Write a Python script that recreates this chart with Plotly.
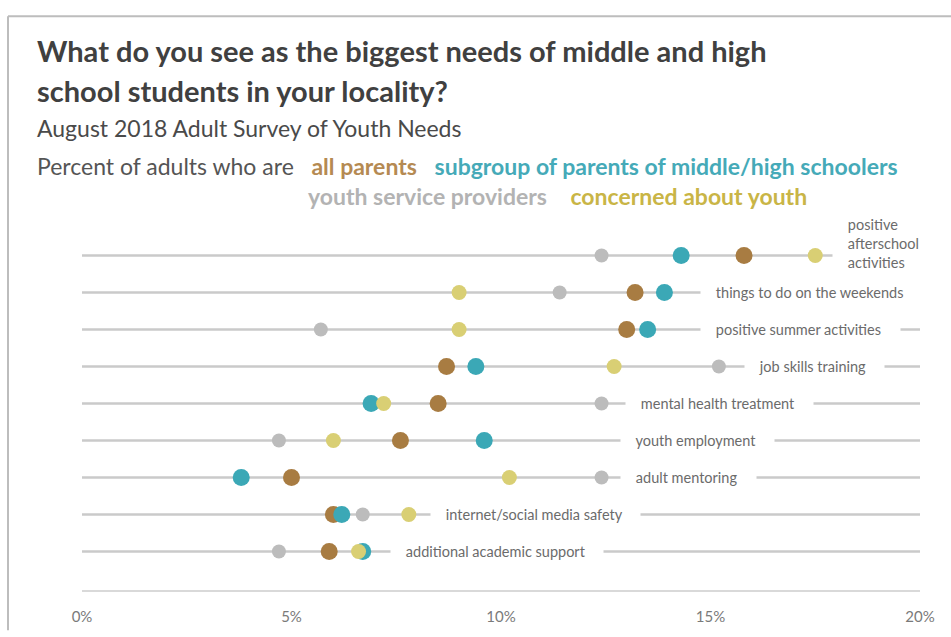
import plotly.graph_objects as go

# Survey items, top row first
needs = [
    "positive<br>afterschool<br>activities",
    "things to do on the weekends",
    "positive summer activities",
    "job skills training",
    "mental health treatment",
    "youth employment",
    "adult mentoring",
    "internet/social media safety",
    "additional academic support",
]

# Percent of adults naming each need, by respondent group
youth_service_providers = [12.4, 11.4, 5.7, 15.2, 12.4, 4.7, 12.4, 6.7, 4.7]
all_parents = [15.8, 13.2, 13.0, 8.7, 8.5, 7.6, 5.0, 6.0, 5.9]
parents_mid_high = [14.3, 13.9, 13.5, 9.4, 6.9, 9.6, 3.8, 6.2, 6.7]
concerned_about_youth = [17.5, 9.0, 9.0, 12.7, 7.2, 6.0, 10.2, 7.8, 6.6]

x_ticks = [0, 5, 10, 15, 20]
x_tick_labels = ["0%", "5%", "10%", "15%", "20%"]

# where each row's label sits (percent axis units)
label_x = [17.9, 14.75, 14.75, 15.8, 12.95, 12.85, 12.85, 8.3, 7.35]

W, H = 951, 637
ML, MR, MT, MB = 82, 31, 220, 41
PW, PH = W - ML - MR, H - MT - MB


def px(x):
    return (x - ML) / PW


def py(y):
    return (H - MB - y) / PH


n = len(needs)
rows = [n - i for i in range(n)]  # top row gets the largest y

C_GRAY = "#bcbcbc"
C_BROWN = "#a87c42"
C_TEAL = "#3ba8b6"
C_YELLOW = "#d9cf74"
FONT = "Lato"

fig = go.Figure()

# light guide line across each row
gx, gy = [], []
for r in rows:
    gx += [x_ticks[0], x_ticks[-1], None]
    gy += [r, r, None]
fig.add_trace(go.Scatter(x=gx, y=gy, mode="lines",
                         line=dict(color="#cacaca", width=2.5),
                         hoverinfo="skip", showlegend=False))

series = [
    ("youth service providers", youth_service_providers, C_GRAY, 14),
    ("all parents", all_parents, C_BROWN, 17),
    ("subgroup of parents of middle/high schoolers", parents_mid_high, C_TEAL, 17),
    ("concerned about youth", concerned_about_youth, C_YELLOW, 15),
]
for name, vals, color, size in series:
    fig.add_trace(go.Scatter(
        x=vals, y=rows, mode="markers", name=name,
        marker=dict(color=color, size=size, line=dict(width=0)),
        showlegend=False,
    ))

annotations = []
pad_l = "\u00a0" * 4
pad_r = "\u00a0" * 5
for i, (lab, r, lx) in enumerate(zip(needs, rows, label_x)):
    parts = lab.split("<br>")
    txt = "<br>".join(pad_l + p + pad_r for p in parts)
    annotations.append(dict(
        x=lx, y=r, xref="x", yref="y", text=txt, showarrow=False,
        xanchor="left", yanchor="middle", align="left",
        bgcolor="white", borderpad=0,
        yshift=12 if len(parts) > 1 else 0,
        font=dict(family=FONT, size=14.5, color="#6b6b6b"),
    ))

title_lines = [
    "What do you see as the biggest needs of middle and high",
    "school students in your locality?",
]
title_y = [48, 88]


def note(x, y, text, size, color):
    return dict(x=px(x), y=py(y), xref="paper", yref="paper", xanchor="left",
                yanchor="middle", showarrow=False, align="left", text=text,
                font=dict(family=FONT, size=size, color=color))


# heading block
for t, ty in zip(title_lines, title_y):
    annotations.append(note(35, ty, f"<b>{t}</b>", 29, "#404040"))
annotations.append(note(35, 127, "August 2018 Adult Survey of Youth Needs", 23, "#4a4a4a"))
annotations.append(note(
    35, 165,
    ("Percent of adults who are\u00a0\u00a0\u00a0"
     "<b><span style='color:#b58a52'>all parents</span></b>\u00a0\u00a0\u00a0"
     "<b><span style='color:#45aab8'>subgroup of parents of middle/high schoolers</span></b>"),
    23, "#555555"))
annotations.append(note(
    306, 196,
    ("<b><span style='color:#b3b3b3'>youth service providers</span></b>\u00a0\u00a0\u00a0\u00a0"
     "<b><span style='color:#c9b546'>concerned about youth</span></b>"),
    23, "#555555"))

# outer frame (top and left edges)
shapes = [
    dict(type="line", xref="paper", yref="paper", x0=px(8), x1=px(W),
         y0=py(13), y1=py(13), line=dict(color="#bdbdbd", width=2)),
    dict(type="line", xref="paper", yref="paper", x0=px(8), x1=px(8),
         y0=py(13), y1=py(H), line=dict(color="#bdbdbd", width=2)),
]

fig.update_layout(
    width=W, height=H,
    margin=dict(l=ML, r=MR, t=MT, b=MB),
    paper_bgcolor="white", plot_bgcolor="white",
    annotations=annotations, shapes=shapes,
    showlegend=False,
    xaxis=dict(range=[0, 20], tickvals=x_ticks, ticktext=x_tick_labels,
               showgrid=False, zeroline=False, showline=True,
               linecolor="#d9d9d9", linewidth=2, ticks="",
               ticklabelstandoff=12,
               tickfont=dict(family=FONT, size=15, color="#7a7a7a")),
    yaxis=dict(range=[-0.04, -0.04 + PH / 37.6], showgrid=False,
               zeroline=False, showticklabels=False, showline=False),
)

fig.write_html("out.html")
